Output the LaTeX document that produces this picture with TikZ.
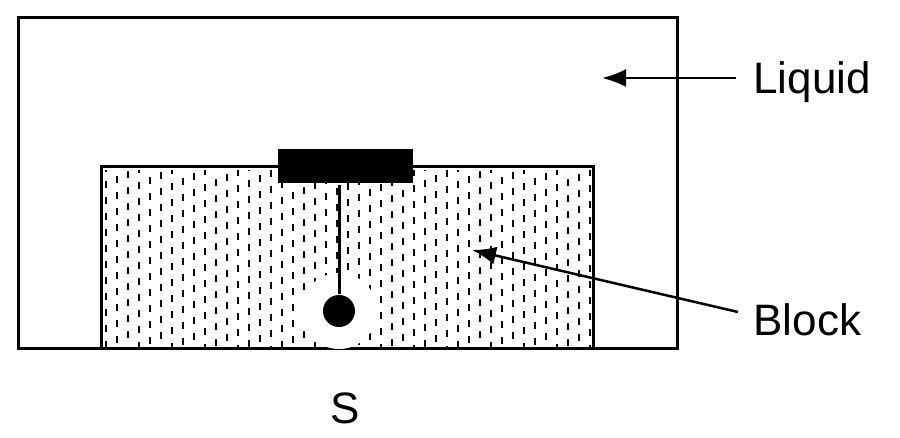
\documentclass[tikz,border=0pt]{standalone}
\usepackage{tikz}
\usepackage{fontspec}
\setmainfont{Liberation Sans}
\usetikzlibrary{arrows.meta}

\begin{document}
\begin{tikzpicture}[x=1pt,y=-1pt,line width=3pt]
		\tikzstyle{label}=[font=\fontsize{44}{52}\selectfont, inner sep=0pt]
		\tikzstyle{pointer}=[-{Latex[length=24pt,width=18pt]}, line width=2.5pt]
		\useasboundingbox (0,0) rectangle (900,437);
		
		% container and block
		\draw (18,17) rectangle (677,348);
		\begin{scope}
		\clip (101,166) rectangle (593,348);
		\foreach \x [count=\i] in {106,117,...,590}
		\draw[line width=1.4pt, dash pattern=on 7pt off 9pt, dash phase=\i*5pt] (\x,170) -- (\x,348);
		\fill[white] (339,311) circle (38);
		\end{scope}
		\draw (101,348) -- (101,166) -- (593,166) -- (593,348);
		
		% sensor
		\node[fill=black, minimum width=135pt, minimum height=34pt, inner sep=0pt] (plate) at (345.5,166) {};
		\node[circle, fill=black, minimum size=32pt, inner sep=0pt] (ball) at (339,311) {};
		\draw[line width=3pt] (plate.south -| ball) -- (ball);
		
		% labels
		\node[label, anchor=west] (liquid) at (752,82) {Liquid};
		\node[label, anchor=west] (block) at (752,320) {Block};
		\node[label] (s) at (345,408) {S};
		\coordinate (lq) at (602,78);
		\coordinate (bk) at (472,250);
		\draw[pointer] (liquid.west) ++(-16,-4) -- (lq);
		\draw[pointer] (block.west) ++(-14,-8) -- (bk);
\end{tikzpicture}
\end{document}
